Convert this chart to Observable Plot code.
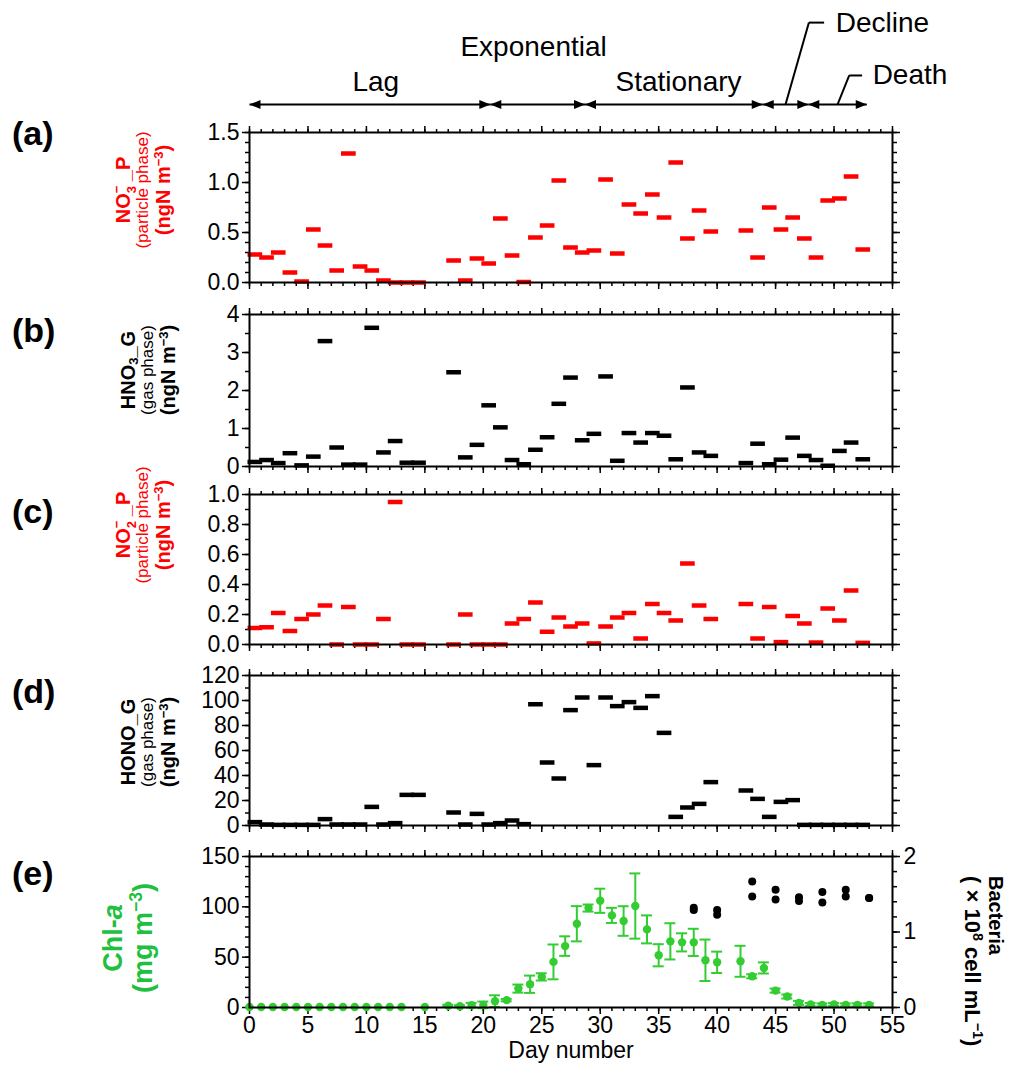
<!DOCTYPE html>
<html>
<head>
<meta charset="utf-8">
<script src="https://cdn.jsdelivr.net/npm/d3@7"></script>
<script src="https://cdn.jsdelivr.net/npm/@observablehq/plot@0.6"></script>
<style>
  body { margin: 0; background: #fff; font-family: "Liberation Sans", Arial, sans-serif; }
  #chart { position: relative; width: 1013px; height: 1074px; overflow: hidden; background: #fff; }
  #chart svg { position: absolute; left: 0; }
  .lbl { position: absolute; transform: translate(-50%, -50%) rotate(-90deg); text-align: center; white-space: nowrap; }
  .main { font-weight: bold; font-size: 20px; line-height: 22px; }
  .sub { font-size: 17px; line-height: 18px; }
  .big { font-weight: bold; font-size: 27px; line-height: 30px; }
  .sb { position: relative; display: inline-block; width: 12px; height: 0; }
  .sb span { position: absolute; left: 0; font-size: 13px; line-height: 15px; }
  .sb .up { top: -21px; }
  .sb .dn { top: -6px; }
  sup { font-size: 0.65em; line-height: 0; vertical-align: 0.55em; }
  sub { font-size: 0.65em; line-height: 0; vertical-align: -0.25em; }
  .letter { position: absolute; left: 12px; transform: translateY(-50%); font-weight: bold; font-size: 34px; }
  .rlbl { position: absolute; transform-origin: 0 0; transform: rotate(90deg); white-space: nowrap; font-weight: bold; text-align: left; }
  .rlbl .l1 { font-size: 20px; line-height: 24px; }
  .rlbl .l2 { font-size: 22px; line-height: 24px; }
</style>
</head>
<body>
<div id="chart"></div>
<script>
// ---------------- data ----------------
// sampling start days of the aerosol/gas samples (each covers one day)
const sampleDays = [0,1,2,3,4,5,6,7,8,9,10,11,12,13,14,
  17,18,19,20,21,22,23,24,25,26,27,28,29,30,31,32,33,34,35,36,37,38,39,
  42,43,44,45,46,47,48,49,50,51,52];
// (a) NO3- particle phase (ngN m-3)
const no3P = [0.28,0.25,0.30,0.10,0.01,0.53,0.37,0.12,1.29,0.16,0.12,0.02,0.0,0.0,0.0,
  0.22,0.02,0.24,0.19,0.64,0.27,0.005,0.45,0.57,1.02,0.35,0.30,0.32,1.03,0.29,0.78,0.69,0.88,0.65,1.20,0.44,0.72,0.51,
  0.52,0.25,0.75,0.53,0.65,0.44,0.25,0.82,0.84,1.06,0.33];
// (b) HNO3 gas phase
const hno3G = [0.12,0.17,0.09,0.35,0.03,0.26,3.30,0.50,0.05,0.05,3.65,0.37,0.67,0.10,0.10,
  2.48,0.24,0.57,1.61,1.03,0.17,0.06,0.44,0.77,1.65,2.34,0.69,0.86,2.37,0.15,0.88,0.63,0.88,0.81,0.19,2.08,0.37,0.28,
  0.09,0.60,0.06,0.18,0.76,0.28,0.17,0.02,0.41,0.63,0.19];
// (c) NO2- particle phase
const no2P = [0.11,0.115,0.21,0.09,0.17,0.20,0.26,0.0,0.25,0.0,0.0,0.17,0.95,0.0,0.0,
  0.0,0.20,0.0,0.0,0.0,0.14,0.17,0.28,0.085,0.18,0.12,0.14,0.007,0.12,0.18,0.21,0.04,0.27,0.21,0.16,0.54,0.26,0.17,
  0.27,0.04,0.25,0.016,0.19,0.14,0.013,0.24,0.16,0.36,0.011];
// (d) HONO gas phase
const honoG = [2.7,0.8,0.5,0.5,0.5,0.5,5.1,0.8,0.8,0.8,14.9,0.8,1.9,24.5,24.5,
  10.4,0.8,9.3,0.8,1.9,4.0,1.1,97,50.4,37.6,92.3,102.4,48.3,102.4,95.5,98.7,94.1,103.5,74.1,6.9,14.4,17.3,34.7,
  28,21.3,6.9,18.9,20.3,0.5,0.5,0.5,0.5,0.5,0.5];
// (e) Chl-a (mg m-3), mean and error
const chlDays = [0,1,2,3,4,5,6,7,8,9,10,11,12,13,15,
  17,18,19,20,21,22,23,24,25,26,27,28,29,30,31,32,33,34,35,36,37,38,39,40,
  42,43,44,45,46,47,48,49,50,51,52,53];
const chlMean = [0.5,0.5,0.5,0.5,0.5,0.5,0.5,0.5,0.5,0.5,0.5,0.5,0.5,0.5,0.5,
  1.7,1.3,2.3,2.6,6.3,7.3,18.8,23.1,30.4,45.3,61,83.2,98.8,106,91.5,85.9,100.8,77.6,51.9,65.7,64.7,64.7,46.9,44.9,
  45.9,31,39.3,16.8,10.9,4.6,3,2.6,3,2.6,2.6,2.6];
const chlErr = [0,0,0,0,0,0,0,0,0,0,0,0,0,0,0,
  1,1,2.3,3.3,5.8,1.2,4,8.6,3.6,17.3,9.7,17.5,3.5,12,7.5,14.7,32.4,13.9,11,18,9,13.5,20.6,10.6,
  15.4,2,5.5,2,2,2,1.5,1.5,1.5,1.5,1.5,1.5];
// Bacteria (x10^8 cell mL-1), duplicates
const bactDays = [38,38,40,40,43,43,45,45,47,47,49,49,51,51,53,53];
const bactVals = [1.32,1.29,1.29,1.23,1.67,1.47,1.56,1.43,1.46,1.41,1.53,1.39,1.56,1.47,1.45,1.45];
// growth phases
const phaseNames = ["Lag","Exponential","Stationary","Decline","Death"];
const phaseBounds = [0,20.6,28.7,43.9,47.8,52.8];

// ---------------- layout ----------------
const W = 1013, ML = 249, MR = 121;
const RED = "#ff0000", GREEN = "#33cc33", LABEL_GREEN = "#1fbf3f";
const xMajor = d3.range(0, 56, 5);
const xMinor = d3.range(0, 56, 1);
const baseStyle = {fontFamily: "'Liberation Sans', Arial, sans-serif", fontSize: "23px", color: "black",
  background: "transparent", overflow: "visible", maxWidth: "none"};
const chart = document.getElementById("chart");

const rows = (vals) => sampleDays.map((day, i) => ({day, v: vals[i]}));
const barMark = (vals, stroke) => Plot.ruleY(rows(vals), {
  y: "v", x1: "day", x2: d => d.day + 1, stroke, strokeWidth: 4.5, insetLeft: -1.5, insetRight: -1.5
});

function makePanel({top, fh, mb = 12, yDomain, yMajor, yMinor, yFmt, marks, xLabels = false, right = null}) {
  const T = {strokeWidth: 1.5, label: null};
  const axes = [
    Plot.axisX({anchor: "top", ticks: xMajor, tickSize: 7, fill: "none", ...T}),
    Plot.axisX({anchor: "top", ticks: xMinor, tickSize: 4, fill: "none", ...T}),
    xLabels
      ? Plot.axisX({anchor: "bottom", ticks: xMajor, tickSize: 7, tickPadding: 2, ...T})
      : Plot.axisX({anchor: "bottom", ticks: xMajor, tickSize: 7, fill: "none", ...T}),
    Plot.axisX({anchor: "bottom", ticks: xMinor, tickSize: 4, fill: "none", ...T}),
    Plot.axisY({anchor: "left", ticks: yMajor, tickSize: 7, tickPadding: 3, tickFormat: yFmt, ...T}),
    Plot.axisY({anchor: "left", ticks: yMinor, tickSize: 4, fill: "none", ...T}),
    right
      ? Plot.axisY({anchor: "right", ticks: right.major, tickSize: 7, tickPadding: 4, tickFormat: right.fmt, ...T})
      : Plot.axisY({anchor: "right", ticks: yMajor, tickSize: 7, fill: "none", ...T}),
    Plot.axisY({anchor: "right", ticks: right ? right.minor : yMinor, tickSize: 4, fill: "none", ...T})
  ];
  const svg = Plot.plot({
    width: W, height: 12 + fh + mb,
    marginLeft: ML, marginRight: MR, marginTop: 12, marginBottom: mb,
    style: baseStyle,
    x: {domain: [0, 55], label: null},
    y: {domain: yDomain, label: null},
    marks: [...axes, ...marks, Plot.frame({stroke: "black", strokeWidth: 2})]
  });
  svg.style.top = (top - 12) + "px";
  chart.appendChild(svg);
  return svg;
}

// ---------------- header (growth phases) ----------------
const phaseRows = phaseNames.map((name, i) => ({name, start: phaseBounds[i], end: phaseBounds[i + 1]}));
const head = {draw(ctx) { ctx.moveTo(0, 0); ctx.lineTo(-11, -4.5); ctx.lineTo(-11, 4.5); ctx.closePath(); }};
const centerLabels = [
  {name: "Lag", x: 10.8, y: 1},
  {name: "Exponential", x: 24.3, y: 2.55},
  {name: "Stationary", x: 36.7, y: 1}
];
const mid = (i) => (phaseBounds[i] + phaseBounds[i + 1]) / 2;
const sideLabels = [
  {name: "Decline", x0: mid(3), xk: mid(3) + 2.0, xe: mid(3) + 3.3, x: mid(3) + 4.3, y: 3.64},
  {name: "Death", x0: mid(4), xk: mid(4) + 1.0, xe: mid(4) + 2.1, x: mid(4) + 3.0, y: 1.29}
];
const leaderSegs = sideLabels.flatMap(d => [
  {x1: d.x0, y1: 0, x2: d.xk, y2: d.y},
  {x1: d.xk, y1: d.y, x2: d.xe, y2: d.y}
]);
const header = Plot.plot({
  width: W, height: 122, marginLeft: ML, marginRight: MR, marginTop: 0, marginBottom: 0,
  style: {...baseStyle, fontSize: "28px"},
  x: {domain: [0, 55], axis: null},
  y: {domain: [0, 4], range: [104, 14], axis: null},
  marks: [
    Plot.link(phaseRows, {x1: "start", x2: "end", y1: 0, y2: 0, stroke: "black", strokeWidth: 2}),
    Plot.dot(phaseRows, {x: "end", y: 0, symbol: head, rotate: 0, fill: "black", stroke: "none"}),
    Plot.dot(phaseRows, {x: "start", y: 0, symbol: head, rotate: 180, fill: "black", stroke: "none"}),
    Plot.link(leaderSegs, {x1: "x1", y1: "y1", x2: "x2", y2: "y2", stroke: "black", strokeWidth: 2}),
    Plot.text(centerLabels, {x: "x", y: "y", text: "name", textAnchor: "middle", fill: "black"}),
    Plot.text(sideLabels, {x: "x", y: "y", text: "name", textAnchor: "start", fill: "black"})
  ]
});
header.style.top = "0px";
chart.appendChild(header);

// ---------------- panels ----------------
const f1 = d3.format(".1f");
makePanel({top: 132, fh: 150, yDomain: [0, 1.5], yMajor: [0, 0.5, 1, 1.5], yMinor: d3.range(0, 16).map(i => i / 10),
  yFmt: f1, marks: [barMark(no3P, RED)]});
makePanel({top: 314, fh: 152, yDomain: [0, 4], yMajor: [0, 1, 2, 3, 4], yMinor: d3.range(0, 9).map(i => i / 2),
  yFmt: d => d, marks: [barMark(hno3G, "black")]});
makePanel({top: 494, fh: 150, yDomain: [0, 1], yMajor: d3.range(0, 6).map(i => i / 5), yMinor: d3.range(0, 11).map(i => i / 10),
  yFmt: f1, marks: [barMark(no2P, RED)]});
makePanel({top: 675, fh: 150, yDomain: [0, 120], yMajor: d3.range(0, 121, 20), yMinor: d3.range(0, 121, 10),
  yFmt: d => d, marks: [barMark(honoG, "black")]});

const BSCALE = 150 / 2; // right axis 0–2 mapped onto 0–150
const chlRows = chlDays.map((day, i) => ({day, m: chlMean[i], e: chlErr[i]}));
const errRows = chlRows.filter(d => d.e > 0);
const bactRows = bactDays.map((day, i) => ({day, v: bactVals[i]}));
makePanel({top: 856, fh: 151, mb: 67, yDomain: [0, 150], yMajor: [0, 50, 100, 150], yMinor: d3.range(0, 151, 10),
  yFmt: d => d, xLabels: true,
  right: {major: [0, 75, 150], minor: d3.range(0, 11).map(i => i * 15), fmt: d => String(d / BSCALE)},
  marks: [
    Plot.ruleX(errRows, {x: "day", y1: d => d.m - d.e, y2: d => d.m + d.e, stroke: GREEN, strokeWidth: 2}),
    Plot.ruleY(errRows, {x1: "day", x2: "day", y: d => d.m + d.e, insetLeft: -5.5, insetRight: -5.5, stroke: GREEN, strokeWidth: 2}),
    Plot.ruleY(errRows, {x1: "day", x2: "day", y: d => d.m - d.e, insetLeft: -5.5, insetRight: -5.5, stroke: GREEN, strokeWidth: 2}),
    Plot.dot(chlRows, {x: "day", y: "m", r: 4.2, fill: GREEN, stroke: "none"}),
    Plot.dot(bactRows, {x: "day", y: d => d.v * BSCALE, r: 4, fill: "black", stroke: "none"}),
    Plot.text(["Day number"], {frameAnchor: "bottom", dy: 50, fontSize: 23, fill: "black"})
  ]});

// ---------------- HTML text labels ----------------
function addLabel(html, cx, cy, color) {
  const d = document.createElement("div");
  d.className = "lbl";
  d.style.left = cx + "px"; d.style.top = cy + "px"; d.style.color = color;
  d.innerHTML = html;
  chart.appendChild(d);
}
function addLetter(t, cy) {
  const d = document.createElement("div");
  d.className = "letter"; d.style.top = cy + "px"; d.textContent = t;
  chart.appendChild(d);
}
const ngN = `<div class="main">(ngN m<sup>−3</sup>)</div>`;
const ion = (n) => `<span class="sb"><span class="up">−</span><span class="dn">${n}</span></span>`;
addLabel(`<div class="main">NO${ion(3)}_P</div><div class="sub">(particle phase)</div>${ngN}`, 143, 190, RED);
addLabel(`<div class="main">HNO<sub>3</sub>_G</div><div class="sub">(gas phase)</div>${ngN}`, 148, 370, "black");
addLabel(`<div class="main">NO${ion(2)}_P</div><div class="sub">(particle phase)</div>${ngN}`, 143, 525, RED);
addLabel(`<div class="main">HONO_G</div><div class="sub">(gas phase)</div>${ngN}`, 148, 742, "black");
addLabel(`<div class="big">Chl-<i>a</i></div><div class="big">(mg m<sup>−3</sup>)</div>`, 128, 938, LABEL_GREEN);
addLetter("(a)", 133); addLetter("(b)", 330); addLetter("(c)", 511); addLetter("(d)", 691); addLetter("(e)", 873);
const r = document.createElement("div");
r.className = "rlbl"; r.style.left = "1008px"; r.style.top = "876px";
r.innerHTML = `<div class="l1">Bacteria</div><div class="l2">( × 10<sup>8</sup> cell mL<sup>−1</sup>)</div>`;
chart.appendChild(r);
</script>
</body>
</html>
